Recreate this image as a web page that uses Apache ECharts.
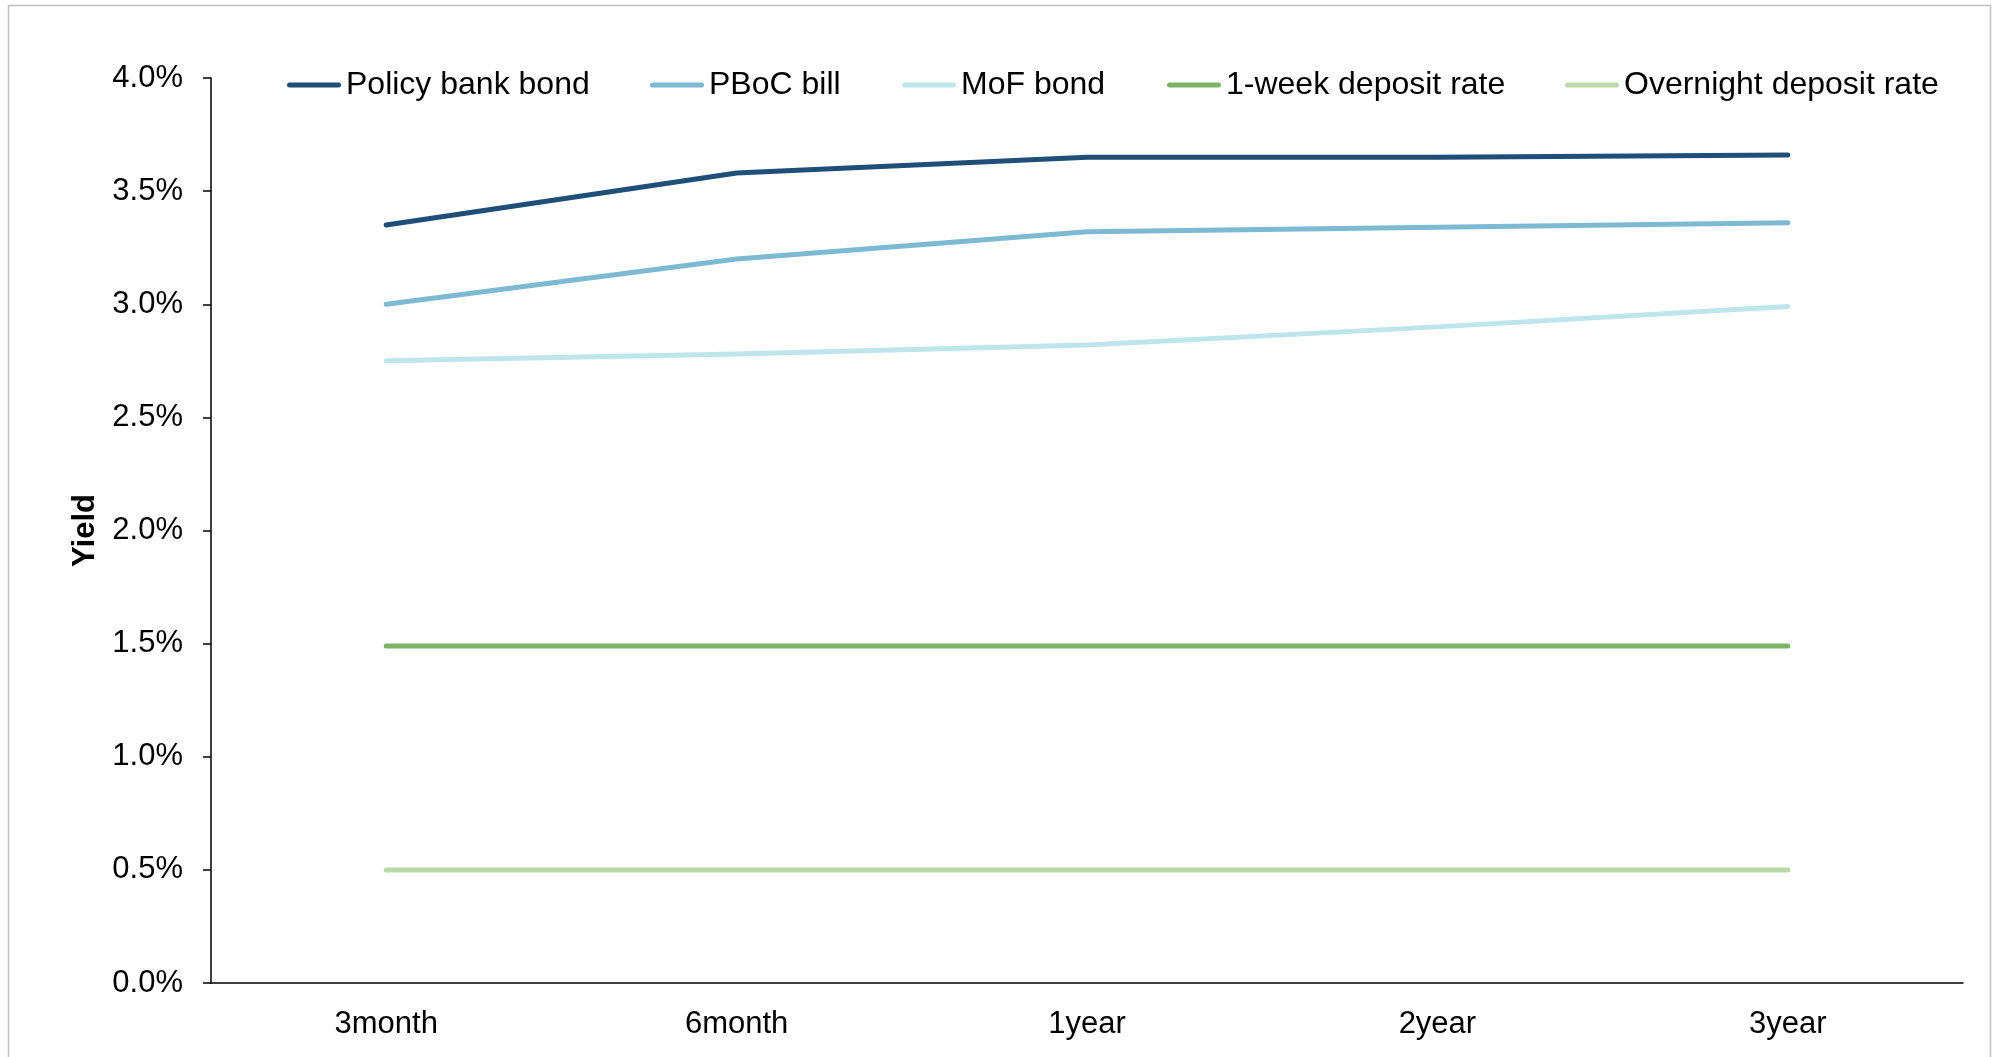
<!DOCTYPE html>
<html>
<head>
<meta charset="utf-8">
<script src="https://cdn.jsdelivr.net/npm/echarts@6/dist/echarts.min.js"></script>
<style>
  html, body { margin: 0; padding: 0; background: #fff; }
  #chart { width: 1995px; height: 1057px; }
</style>
</head>
<body>
<div id="chart"></div>
<script>
const categories = ['3month', '6month', '1year', '2year', '3year'];
const policyBankBond = [3.35, 3.58, 3.65, 3.65, 3.66];
const pbocBill = [3.00, 3.20, 3.32, 3.34, 3.36];
const mofBond = [2.75, 2.78, 2.82, 2.90, 2.99];
const oneWeekDeposit = [1.49, 1.49, 1.49, 1.49, 1.49];
const overnightDeposit = [0.50, 0.50, 0.50, 0.50, 0.50];
const seriesNames = ['Policy bank bond', 'PBoC bill', 'MoF bond', '1-week deposit rate', 'Overnight deposit rate'];
const seriesData = [policyBankBond, pbocBill, mofBond, oneWeekDeposit, overnightDeposit];
const seriesColors = ['#1f4e79', '#7db9d2', '#bee5ec', '#7cb465', '#b9daa8'];
const legendLefts = [287, 650, 902, 1167, 1565];

const FONT = '"Liberation Sans", Arial, sans-serif';
const FS = 31;
const LFS = 32;
const LEGEND_ICON = 'path://M2.5,0 H51.5 A2.5,2.5 0 0 1 51.5,5 H2.5 A2.5,2.5 0 0 1 2.5,0 Z';

const chart = echarts.init(document.getElementById('chart'));
chart.setOption({
  animation: false,
  backgroundColor: '#ffffff',
  textStyle: { fontFamily: FONT },
  graphic: [{
    type: 'rect',
    shape: { x: 8.5, y: 5.5, width: 1982, height: 1060 },
    style: { fill: 'none', stroke: '#c0c0c0', lineWidth: 1.5 },
    silent: true
  }],
  legend: seriesNames.map((n, i) => ({
    data: [{ name: n, icon: LEGEND_ICON, itemStyle: { color: seriesColors[i] } }],
    left: legendLefts[i],
    top: 69,
    padding: 0,
    itemWidth: 54,
    itemHeight: 5,
    textStyle: { fontSize: LFS, color: '#000', fontFamily: FONT },
    selectedMode: false
  })),
  grid: { left: 211, right: 32, top: 78, bottom: 74, containLabel: false },
  xAxis: {
    type: 'category',
    data: categories,
    boundaryGap: true,
    axisLine: { lineStyle: { color: '#000', width: 1.5 } },
    axisTick: { length: 10, lineStyle: { color: '#000', width: 1.5 } },
    axisLabel: { fontSize: FS, color: '#000', margin: 26, fontFamily: FONT },
    splitLine: { show: false }
  },
  yAxis: {
    type: 'value',
    min: 0,
    max: 4,
    interval: 0.5,
    name: 'Yield',
    nameLocation: 'middle',
    nameGap: 108,
    nameTextStyle: { fontSize: FS, fontWeight: 'bold', color: '#000', fontFamily: FONT },
    axisLine: { show: true, lineStyle: { color: '#000', width: 1.5 } },
    axisTick: { show: true, length: 8, lineStyle: { color: '#000', width: 1.5 } },
    axisLabel: { fontSize: FS, color: '#000', margin: 28, fontFamily: FONT,
      formatter: v => v.toFixed(1) + '%' },
    splitLine: { show: false }
  },
  series: seriesNames.map((n, i) => ({
    name: n,
    type: 'line',
    data: seriesData[i],
    symbol: 'none',
    showSymbol: false,
    color: seriesColors[i],
    lineStyle: { width: 5, color: seriesColors[i], cap: 'round', join: 'round' },
    z: 10 - i
  }))
});
</script>
</body>
</html>
